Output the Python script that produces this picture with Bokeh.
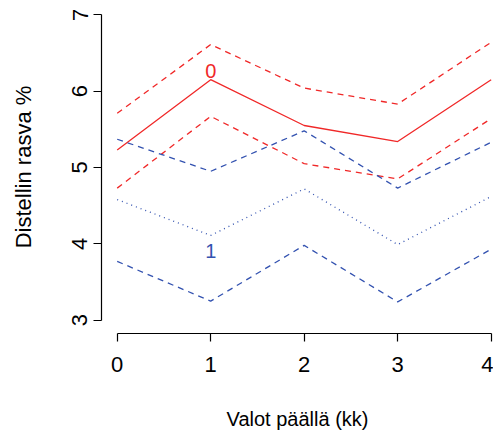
from bokeh.plotting import figure
from bokeh.models import Range1d, FixedTicker, ColumnDataSource
from bokeh.embed import file_html
from bokeh.resources import INLINE
from bokeh.core.properties import value

# ---- data ----
months = [0, 1, 2, 3, 4]
g0_mean = [5.23, 6.15, 5.55, 5.34, 6.15]
g0_upper = [5.71, 6.61, 6.04, 5.83, 6.64]
g0_lower = [4.73, 5.67, 5.05, 4.85, 5.64]
g1_mean = [4.58, 4.11, 4.72, 3.99, 4.62]
g1_upper = [5.37, 4.95, 5.48, 4.73, 5.33]
g1_lower = [3.77, 3.25, 3.98, 3.24, 3.93]
group_labels = ["0", "1"]
group_label_x = [1, 1]
group_label_y = [6.27, 3.90]
x_ticks = [0, 1, 2, 3, 4]
y_ticks = [3, 4, 5, 6, 7]
x_title = "Valot päällä (kk)"
y_title = "Distellin rasva %"

RED = "#F02828"
BLUE = "#3352B0"
FONT = "Liberation Sans"

p = figure(width=493, height=432,
           x_range=Range1d(-0.168, 4.025), y_range=Range1d(2.826, 7.187),
           output_backend="svg", toolbar_location=None,
           min_border_left=101, min_border_right=0, min_border_top=0,
           min_border_bottom=98)
p.outline_line_color = None
p.grid.visible = False
p.background_fill_color = "white"
p.border_fill_color = "white"

src = ColumnDataSource(dict(x=months, m0=g0_mean, u0=g0_upper, l0=g0_lower,
                            m1=g1_mean, u1=g1_upper, l1=g1_lower))

p.line("x", "m0", source=src, line_color=RED, line_width=1.3)
p.line("x", "u0", source=src, line_color=RED, line_width=1.3, line_dash="6 5")
p.line("x", "l0", source=src, line_color=RED, line_width=1.3, line_dash="6 5")
p.line("x", "m1", source=src, line_color=BLUE, line_width=1.3, line_dash="1 4")
p.line("x", "u1", source=src, line_color=BLUE, line_width=1.3, line_dash="6 5")
p.line("x", "l1", source=src, line_color=BLUE, line_width=1.3, line_dash="6 5")

lsrc = ColumnDataSource(dict(x=group_label_x, y=group_label_y, t=group_labels,
                             c=[RED, BLUE]))
p.text("x", "y", text="t", source=lsrc, text_color="c", text_align="center",
       text_baseline="middle", text_font=value(FONT), text_font_size="20px")

for ax in (p.xaxis[0], p.yaxis[0]):
    ax.axis_line_color = "black"
    ax.axis_line_width = 1.2
    ax.major_tick_line_color = "black"
    ax.major_tick_line_width = 1.2
    ax.major_tick_in = 0
    ax.major_tick_out = 8
    ax.minor_tick_line_color = None
    ax.major_label_text_font = FONT
    ax.major_label_text_font_size = "22px"
    ax.major_label_text_color = "black"
    ax.axis_label_text_font = FONT
    ax.axis_label_text_font_style = "normal"
    ax.axis_label_text_color = "black"

p.xaxis[0].ticker = FixedTicker(ticks=x_ticks)
p.xaxis[0].bounds = (x_ticks[0], x_ticks[-1])
p.xaxis[0].major_label_standoff = 15
p.xaxis[0].axis_label = x_title
p.xaxis[0].axis_label_text_font_size = "20px"
p.xaxis[0].axis_label_standoff = 33

p.yaxis[0].ticker = FixedTicker(ticks=y_ticks)
p.yaxis[0].bounds = (y_ticks[0], y_ticks[-1])
p.yaxis[0].major_label_orientation = "vertical"
p.yaxis[0].major_label_standoff = 6
p.yaxis[0].axis_label = y_title
p.yaxis[0].axis_label_text_font_size = "22px"
p.yaxis[0].axis_label_standoff = 34

open("out.html", "w").write(file_html(p, INLINE))
